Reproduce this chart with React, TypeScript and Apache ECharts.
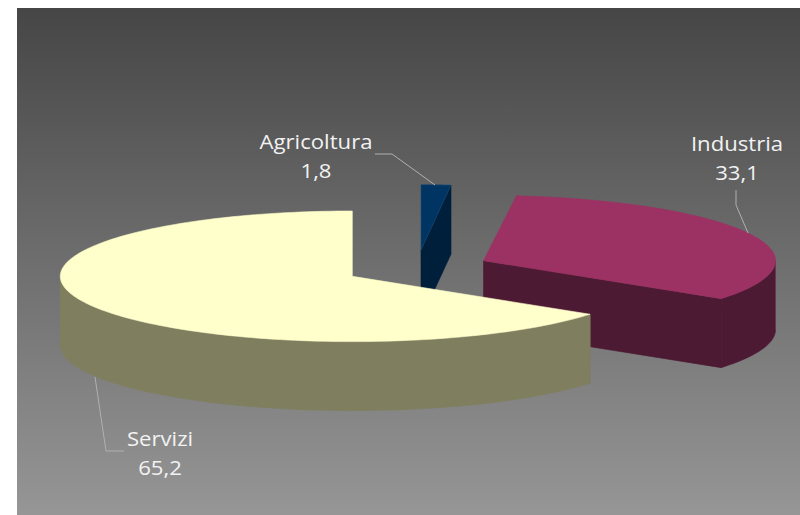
import React, { useEffect, useRef } from "react";
import * as echarts from "echarts";

// Economic sectors, share in percent
const categories = ["Agricoltura", "Industria", "Servizi"];
const shares = [1.8, 33.1, 65.2];

// Face colours per sector
const topColors = ["#003463", "#9c3263", "#ffffcb"];
const sideColors = ["#001f3b", "#4d1a33", "#7f7f60"];
const seamColors = ["#1d4a74", "#6d3a52", "#7f7f60"];

// Exploded slice apexes on the page
const apexes = [
  [421, 250],
  [483.5, 260.7],
  [352.3, 276.3],
];

// Horizontal radius of each exploded slice
const radiiX = [266, 292, 292];

// Label centres: x, first line y, second line y
const labelCentres = [
  [316, 141, 170],
  [737, 143, 172],
  [160, 438, 467],
];

// Leader lines from label to slice
const leaders = [
  [[375, 154], [392, 154], [435, 185]],
  [[736, 190], [736, 205], [748, 233]],
  [[124, 451], [106, 451], [95, 377]],
];

const RY = 65.3;
const DEPTH = 69;
const TEXT_FONT = '20.5px "Open Sans", sans-serif';
const TEXT_STRETCH = 1.08;

const total = shares.reduce((a, b) => a + b, 0);

// Point on a flattened rim; angle is clockwise from 12 o'clock, in degrees
const rim = (cx: number, cy: number, rx: number, deg: number) => {
  const r = (deg * Math.PI) / 180;
  return [cx + rx * Math.sin(r), cy - RY * Math.cos(r)];
};

const arc = (cx: number, cy: number, rx: number, from: number, to: number) => {
  const pts: number[][] = [];
  const steps = Math.max(2, Math.ceil(Math.abs(to - from) / 1.5));
  for (let i = 0; i <= steps; i++) pts.push(rim(cx, cy, rx, from + ((to - from) * i) / steps));
  return pts;
};

const drop = (pts: number[][]) => pts.map(([x, y]) => [x, y + DEPTH]);

function renderSlice(params: any, api: any) {
  const i = params.dataIndex;
  const value = api.value(0);
  let start = 0;
  for (let k = 0; k < i; k++) start += (shares[k] / total) * 360;
  const end = start + (value / total) * 360;
  const [cx, cy] = apexes[i];
  const rx = radiiX[i];
  const apex = [cx, cy];
  const children: any[] = [];

  const face = (points: number[][], fill: string, stroke: string) => ({
    type: "polygon",
    shape: { points },
    style: { fill, stroke, lineWidth: 0.6 },
  });

  // Cut wall at the end angle, seen when it turns towards the viewer
  if (Math.sin((end * Math.PI) / 180) > 0.001) {
    const e = rim(cx, cy, rx, end);
    children.push(
      face([apex, e, [e[0], e[1] + DEPTH], [cx, cy + DEPTH]], sideColors[i], sideColors[i])
    );
  }

  // Outer wall, only the front half of the rim
  const a = Math.max(start, 90);
  const b = Math.min(end, 270);
  if (b > a) {
    const upper = arc(cx, cy, rx, a, b);
    children.push(face([...upper, ...drop(upper).reverse()], sideColors[i], sideColors[i]));
    const s = rim(cx, cy, rx, a);
    children.push({
      type: "line",
      shape: { x1: s[0], y1: s[1], x2: s[0], y2: s[1] + DEPTH },
      style: { stroke: seamColors[i], lineWidth: 0.8 },
    });
  }

  // Top face
  children.push(face([apex, ...arc(cx, cy, rx, start, end)], topColors[i], i === 0 ? seamColors[i] : topColors[i]));

  // Leader line
  children.push({
    type: "polyline",
    shape: { points: leaders[i] },
    style: { fill: "none", stroke: "#b0b0b0", lineWidth: 1 },
    z2: 5,
  });

  // Two-line label: name above value
  const [lx, ly1, ly2] = labelCentres[i];
  const lines: [string, number][] = [
    [categories[i], ly1],
    [value.toFixed(1).replace(".", ","), ly2],
  ];
  lines.forEach(([text, y]) =>
    children.push({
      type: "text",
      z2: 6,
      x: lx,
      y,
      scaleX: TEXT_STRETCH,
      style: { text, x: 0, y: 0, font: TEXT_FONT, fill: "#f2f2f2", align: "center", verticalAlign: "middle" },
    })
  );

  return { type: "group", children };
}

export default function App() {
  const ref = useRef<HTMLDivElement>(null);

  useEffect(() => {
    const chart = echarts.init(ref.current!, undefined, { renderer: "svg" });
    chart.setOption({
      animation: false,
      backgroundColor: "#ffffff",
      graphic: [
        {
          type: "rect",
          z: -10,
          shape: { x: 17, y: 8, width: 783, height: 507 },
          style: {
            fill: new echarts.graphic.LinearGradient(0, 0, 0, 1, [
              { offset: 0, color: "#464646" },
              { offset: 1, color: "#969696" },
            ]),
          },
        },
      ],
      series: [
        {
          type: "custom",
          coordinateSystem: "none",
          renderItem: renderSlice,
          data: shares.map((v, i) => ({ name: categories[i], value: [v] })),
        },
      ],
    });
    return () => chart.dispose();
  }, []);

  return <div ref={ref} style={{ position: "absolute", left: 0, top: 0, width: 800, height: 515 }} />;
}
